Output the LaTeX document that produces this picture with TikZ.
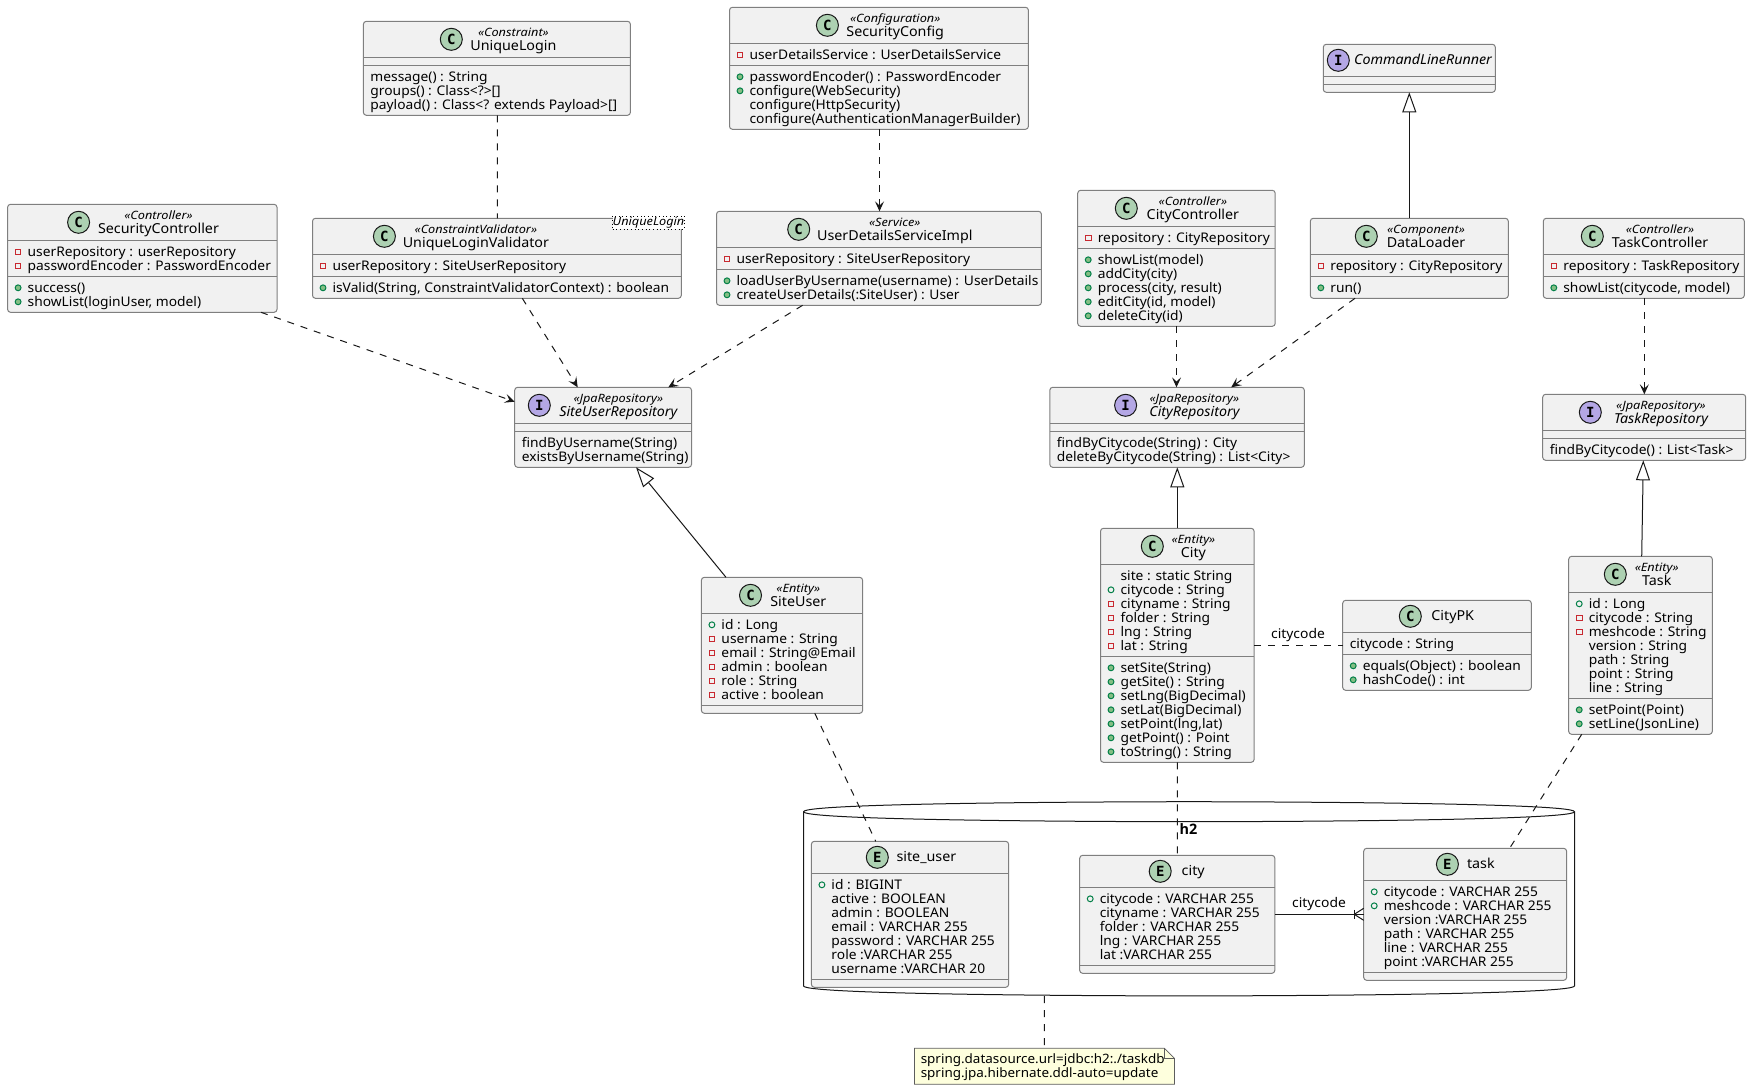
\documentclass[tikz,border=0pt]{standalone}
\usepackage{fontspec}
\setmainfont[FakeStretch=1.04]{Noto Sans}
\newfontfamily\stereofont[FakeStretch=1.11]{Noto Sans}
\newfontfamily\headfont{Open Sans}
\newfontfamily\letterfont{DejaVu Sans Mono}
\usetikzlibrary{arrows.meta,calc}
\definecolor{boxfill}{HTML}{F1F1F1}
\definecolor{boxline}{HTML}{7F7F7F}
\definecolor{inkc}{HTML}{181818}
\definecolor{classc}{HTML}{ADD1B2}
\definecolor{ifacec}{HTML}{B4A7E5}
\definecolor{notefill}{HTML}{FEFFDD}
\definecolor{redo}{HTML}{C82930}
\definecolor{greeno}{HTML}{038048}
\definecolor{greenf}{HTML}{84BE84}
\tikzset{
  umlbox/.style={draw=boxline,fill=boxfill,line width=0.75pt,rounded corners=2.2pt,inner sep=0pt,outer sep=0pt},
  sepline/.style={draw=boxline,line width=0.75pt},
  rowt/.style={anchor=base west,inner sep=0pt,font=\fontsize{9.95}{11}\selectfont,text=black},
  stereot/.style={anchor=base,inner sep=0pt,font=\fontsize{8.6}{10}\stereofont\itshape\selectfont,text=black},
  titlet/.style={anchor=base,inner sep=0pt,font=\fontsize{10.3}{11}\selectfont,text=black},
  titlei/.style={titlet,font=\fontsize{10.3}{11}\itshape\selectfont},
  lett/.style={circle,draw=inkc,line width=0.75pt,minimum size=16.5pt,inner sep=0pt,font=\fontsize{10.5}{10}\letterfont\bfseries\selectfont,text=black},
  labt/.style={anchor=base,inner sep=0pt,font=\fontsize{10}{11}\selectfont,text=black},
  notet/.style={anchor=base west,inner sep=0pt,font=\fontsize{9.7}{11}\selectfont,text=black},
  lnk/.style={draw=inkc,line width=0.75pt},
  dep/.style={lnk,dash pattern=on 5.25pt off 5.25pt},
  deparr/.style={dep,-{Stealth[length=7.5pt,width=6.8pt,inset=3.2pt,fill=inkc]}},
  inh/.style={lnk,-{Triangle[length=15pt,width=10.5pt,fill=white,line width=0.75pt]}},
}
% name, x1,y1,x2,y2, header line, member line
\newcommand\umlclass[7]{%
  \pgfmathsetlengthmacro\bw{(#4-#2)*0.75pt}%
  \pgfmathsetlengthmacro\bh{(#5-#3)*0.75pt}%
  \node[umlbox,minimum width=\bw,minimum height=\bh] (#1) at ({(#2+#4)/2},{(#3+#5)/2}) {};
  \draw[sepline] (#2,#6) -- (#4,#6);
  \draw[sepline] (#2,#7) -- (#4,#7);
}
% name, letter, colour, circle x, box top, text x, stereotype, title, title style
\newcommand\umlhead[9]{%
  \node[lett,fill=#3] (#1c) at (#4,{#5+18}) {#2};
  \node[stereot] (#1s) at (#6,{#5+15.5}) {«#7»};
  \node[#9] (#1t) at (#6,{#5+28.8}) {#8};
}
\newcommand\umlheadn[8]{%
  \node[lett,fill=#3] (#1c) at (#4,{#5+#8}) {#2};
  \node[titlet] (#1t) at (#6,{#5+#8+4.6}) {#7};
}
% name, section, box left, line y, rows kind/text
\newcommand\umlrows[5]{%
  \foreach \rk/\rt [count=\ri] in {#5}{%
    \pgfmathsetmacro\ry{#4+16.3+14*(\ri-1)}%
    \if\rk n\relax
      \node[rowt] (#1#2\ri) at ({#3+6.8},\ry) {\rt};
    \else
      \node[rowt] (#1#2\ri) at ({#3+19.8},\ry) {\rt};
      \if\rk p\relax
        \draw[draw=redo,line width=0.75pt] ({#3+7.7},{\ry-7.6}) rectangle ++(5.6,5.6);
      \fi
      \if\rk f\relax
        \draw[draw=greeno,line width=0.75pt] ({#3+10.5},{\ry-4.8}) circle[radius=2.2pt];
      \fi
      \if\rk m\relax
        \draw[draw=greeno,fill=greenf,line width=0.75pt] ({#3+10.5},{\ry-4.8}) circle[radius=2.2pt];
      \fi
    \fi
  }%
}
\begin{document}
\begin{tikzpicture}[x=0.75pt,y=-0.75pt]
\useasboundingbox (0,0) rectangle (1751,1090);
% database
\node[inner sep=0pt,minimum width=578.25pt,minimum height=145.7pt] (db) at (1189,898.8) {};
\draw[lnk,fill=white] (803.5,811.7) .. controls (803.5,801.7) and (1189,801.7) .. (1189,801.7)
  .. controls (1189,801.7) and (1574.5,801.7) .. (1574.5,811.7) -- (1574.5,985.9)
  .. controls (1574.5,995.9) and (1189,995.9) .. (1189,995.9)
  .. controls (1189,995.9) and (803.5,995.9) .. (803.5,985.9) -- cycle;
\draw[lnk] (803.5,811.7) .. controls (803.5,821.7) and (1189,821.7) .. (1189,821.7)
  .. controls (1189,821.7) and (1574.5,821.7) .. (1574.5,811.7);
\node[anchor=base,inner sep=0pt,font=\fontsize{10.8}{11}\headfont\bfseries\selectfont] (h2) at (1188.5,834.6) {h2};
% classes
\umlclass{uniq}{363.4}{21.3}{630.4}{115.3}{57.3}{65.3}
\umlhead{uniq}{C}{classc}{451.3}{21.3}{513.4}{Constraint}{UniqueLogin}{titlet}
\umlrows{uniq}{b}{363.4}{65.3}{n/{message() : String},n/{groups() : Class<?>[]},n/{payload() : Class<? extends Payload>[]}}

\umlclass{secctl}{7.6}{204.3}{277}{312.3}{240.3}{276.3}
\umlhead{secctl}{C}{classc}{78.6}{204.3}{158.5}{Controller}{SecurityController}{titlet}
\umlrows{secctl}{a}{7.6}{240.3}{p/{userRepository : userRepository},p/{passwordEncoder : PasswordEncoder}}
\umlrows{secctl}{b}{7.6}{276.3}{m/{success()},m/{showList(loginUser, model)}}

\umlclass{valid}{312.5}{218.3}{681.3}{298.3}{254.3}{276.3}
\umlhead{valid}{C}{classc}{384.4}{218.3}{475.9}{ConstraintValidator}{UniqueLoginValidator}{titlet}
\umlrows{valid}{a}{312.5}{254.3}{p/{userRepository : SiteUserRepository}}
\umlrows{valid}{b}{312.5}{276.3}{m/{isValid(String, ConstraintValidatorContext) : boolean}}
\node[draw=black,dotted,fill=white,line width=0.75pt,inner sep=0pt,minimum width=54pt,minimum height=10pt,font=\fontsize{8.6}{10}\stereofont\itshape\selectfont] (tmpl) at (648.5,222.7) {UniqueLogin};

\umlclass{surepo}{514.7}{387.3}{691.5}{467.3}{423.3}{431.3}
\umlhead{surepo}{I}{ifacec}{539.3}{387.3}{618.3}{JpaRepository}{SiteUserRepository}{titlei}
\umlrows{surepo}{b}{514.7}{431.3}{n/{findByUsername(String)},n/{existsByUsername(String)}}

\umlclass{seccfg}{729.5}{7.3}{1028.4}{129.3}{43.3}{65.3}
\umlhead{seccfg}{C}{classc}{827.4}{7.3}{895.2}{Configuration}{SecurityConfig}{titlet}
\umlrows{seccfg}{a}{729.5}{43.3}{p/{userDetailsService : UserDetailsService}}
\umlrows{seccfg}{b}{729.5}{65.3}{m/{passwordEncoder() : PasswordEncoder},m/{configure(WebSecurity)},e/{configure(HttpSecurity)},e/{configure(AuthenticationManagerBuilder)}}

\umlclass{udsi}{716.5}{211.3}{1041.4}{305.3}{247.3}{269.3}
\umlhead{udsi}{C}{classc}{798.7}{211.3}{894.8}{Service}{UserDetailsServiceImpl}{titlet}
\umlrows{udsi}{a}{716.5}{247.3}{p/{userRepository : SiteUserRepository}}
\umlrows{udsi}{b}{716.5}{269.3}{m/{loadUserByUsername(username) : UserDetails},m/{createUserDetails(:SiteUser) : User}}

\umlclass{cityctl}{1077.7}{190.3}{1275.2}{326.3}{226.3}{248.3}
\umlhead{cityctl}{C}{classc}{1126.3}{190.3}{1192.9}{Controller}{CityController}{titlet}
\umlrows{cityctl}{a}{1077.7}{226.3}{p/{repository : CityRepository}}
\umlrows{cityctl}{b}{1077.7}{248.3}{m/{showList(model)},m/{addCity(city)},m/{process(city, result)},m/{editCity(id, model)},m/{deleteCity(id)}}

\umlclass{cityrepo}{1049.8}{387.3}{1304.3}{467.3}{423.3}{431.3}
\umlhead{cityrepo}{I}{ifacec}{1125.6}{387.3}{1194.4}{JpaRepository}{CityRepository}{titlei}
\umlrows{cityrepo}{b}{1049.8}{431.3}{n/{findByCitycode(String) : City},n/{deleteByCitycode(String) : List<City>}}

\umlclass{clr}{1323.3}{44.3}{1495.3}{92.3}{76.3}{84.3}
\node[lett,fill=ifacec] (clrc) at (1338.3,60.3) {I};
\node[titlei] (clrt) at (1423,64.9) {CommandLineRunner};

\umlclass{loader}{1310.3}{218.3}{1508.3}{298.3}{254.3}{276.3}
\umlhead{loader}{C}{classc}{1366.3}{218.3}{1426}{Component}{DataLoader}{titlet}
\umlrows{loader}{a}{1310.3}{254.3}{p/{repository : CityRepository}}
\umlrows{loader}{b}{1310.3}{276.3}{m/{run()}}

\umlclass{taskctl}{1543.3}{218.3}{1744.3}{298.3}{254.3}{276.3}
\umlhead{taskctl}{C}{classc}{1592.3}{218.3}{1660}{Controller}{TaskController}{titlet}
\umlrows{taskctl}{a}{1543.3}{254.3}{p/{repository : TaskRepository}}
\umlrows{taskctl}{b}{1543.3}{276.3}{m/{showList(citycode, model)}}

\umlclass{taskrepo}{1542.7}{394.3}{1745.7}{460.3}{430.3}{438.3}
\umlhead{taskrepo}{I}{ifacec}{1590.3}{394.3}{1661}{JpaRepository}{TaskRepository}{titlei}
\umlrows{taskrepo}{b}{1542.7}{438.3}{n/{findByCitycode() : List<Task>}}

\umlclass{siteuser}{701.4}{577.3}{862.6}{713.3}{613.3}{705.3}
\umlhead{siteuser}{C}{classc}{750.5}{577.3}{798.3}{Entity}{SiteUser}{titlet}
\umlrows{siteuser}{a}{701.4}{613.3}{f/{id : Long},p/{username : String},p/{email : String@Email},p/{admin : boolean},p/{role : String},p/{active : boolean}}

\umlclass{city}{1100.5}{528.3}{1254.1}{762.3}{564.3}{656.3}
\umlhead{city}{C}{classc}{1152.3}{528.3}{1193.4}{Entity}{City}{titlet}
\umlrows{city}{a}{1100.5}{564.3}{e/{site : static String},f/{citycode : String},p/{cityname : String},p/{folder : String},p/{lng : String},p/{lat : String}}
\umlrows{city}{b}{1100.5}{656.3}{m/{setSite(String)},m/{getSite() : String},m/{setLng(BigDecimal)},m/{setLat(BigDecimal)},m/{setPoint(lng,lat)},m/{getPoint() : Point},m/{toString() : String}}

\umlclass{citypk}{1342.7}{600.3}{1531.3}{690.3}{632.3}{654.3}
\umlheadn{citypk}{C}{classc}{1410.3}{600.3}{1452.7}{CityPK}{16}
\umlrows{citypk}{a}{1342.7}{632.3}{n/{citycode : String}}
\umlrows{citypk}{b}{1342.7}{654.3}{m/{equals(Object) : boolean},m/{hashCode() : int}}

\umlclass{task}{1568.7}{556.3}{1712.3}{734.3}{592.3}{698.3}
\umlhead{task}{C}{classc}{1615.3}{556.3}{1656.7}{Entity}{Task}{titlet}
\umlrows{task}{a}{1568.7}{592.3}{f/{id : Long},p/{citycode : String},p/{meshcode : String},e/{version : String},e/{path : String},e/{point : String},e/{line : String}}
\umlrows{task}{b}{1568.7}{698.3}{m/{setPoint(Point)},m/{setLine(JsonLine)}}

\umlclass{tsiteuser}{811.4}{841.3}{1008.6}{987.3}{873.3}{979.3}
\umlheadn{tsiteuser}{E}{classc}{877.3}{841.3}{926.4}{site\_user}{16}
\umlrows{tsiteuser}{a}{811.4}{873.3}{f/{id : BIGINT},e/{active : BOOLEAN},e/{admin : BOOLEAN},e/{email : VARCHAR 255},e/{password : VARCHAR 255},e/{role :VARCHAR 255},e/{username :VARCHAR 20}}

\umlclass{tcity}{1079.7}{855.3}{1274.8}{973.3}{887.3}{965.3}
\umlheadn{tcity}{E}{classc}{1160.2}{855.3}{1193.2}{city}{16}
\umlrows{tcity}{a}{1079.7}{887.3}{f/{citycode : VARCHAR 255},e/{cityname : VARCHAR 255},e/{folder : VARCHAR 255},e/{lng : VARCHAR 255},e/{lat :VARCHAR 255}}

\umlclass{ttask}{1363.7}{848.3}{1566.6}{980.3}{880.3}{972.3}
\umlheadn{ttask}{E}{classc}{1447.4}{848.3}{1480.8}{task}{16}
\umlrows{ttask}{a}{1363.7}{880.3}{f/{citycode : VARCHAR 255},f/{meshcode : VARCHAR 255},e/{version :VARCHAR 255},e/{path : VARCHAR 255},e/{line : VARCHAR 255},e/{point :VARCHAR 255}}

% note
\node[inner sep=0pt,minimum width=195pt,minimum height=27pt] (note) at (1044.4,1066.3) {};
\draw[draw=inkc!70!white,fill=notefill,line width=0.6pt] (914.4,1048.3) -- (1164.4,1048.3) -- (1174.4,1058.3) -- (1174.4,1084.3) -- (914.4,1084.3) -- cycle;
\draw[draw=inkc!70!white,line width=0.6pt] (1164.4,1048.3) -- (1164.4,1058.3) -- (1174.4,1058.3);
\node[notet] (note1) at (920.5,1063.6) {spring.datasource.url=jdbc:h2:./taskdb};
\node[notet] (note2) at (920.5,1077) {spring.jpa.hibernate.ddl-auto=update};

% connectors
\draw[dep] ($(uniq.south west)+(133.9,0)$) -- ($(valid.north west)+(184.8,0)$);
\draw[deparr] ($(seccfg.south west)+(150,0)$) -- ($(udsi.north west)+(163,0)$);
\draw[deparr] ($(secctl.south west)+(253.4,0)$) -- ($(surepo.north west)+(0,14.4)$);
\draw[deparr] ($(valid.south west)+(209.8,0)$) -- ($(surepo.north west)+(63,0)$);
\draw[deparr] ($(udsi.south west)+(86.1,0)$) -- ($(surepo.north west)+(153.6,0)$);
\draw[inh] ($(siteuser.north west)+(24.6,0)$) -- ($(surepo.south west)+(121.3,0)$);
\draw[deparr] ($(cityctl.south west)+(98.8,0)$) -- ($(cityrepo.north west)+(126.7,0)$);
\draw[deparr] ($(loader.south west)+(44.7,0)$) -- ($(cityrepo.north west)+(181.4,0)$);
\draw[inh] ($(loader.north west)+(99,0)$) -- ($(clr.south west)+(86,0)$);
\draw[deparr] ($(taskctl.south west)+(101,0)$) -- ($(taskrepo.north west)+(101.6,0)$);
\draw[inh] ($(task.north west)+(73,0)$) -- ($(taskrepo.south west)+(100.6,0)$);
\draw[inh] ($(city.north west)+(76.8,0)$) -- ($(cityrepo.south west)+(127.5,0)$);
\draw[dep] (city.east |- citypk.west) -- (citypk.west);
\node[labt] (lab1) at (1298,638.6) {citycode};
\draw[dep] ($(siteuser.south west)+(113.4,0)$) -- ($(tsiteuser.north west)+(64.3,0)$);
\draw[dep] ($(city.south west)+(76.8,0)$) -- ($(tcity.north west)+(97.6,0)$);
\draw[dep] ($(task.south west)+(13,0)$) -- ($(ttask.north west)+(145.9,0)$);
\draw[lnk] (tcity.east |- ttask.west) -- (ttask.west);
\draw[lnk] ($(ttask.west)+(-9.5,0)$) -- ($(ttask.west)+(0,-6)$);
\draw[lnk] ($(ttask.west)+(-9.5,0)$) -- ($(ttask.west)+(0,6)$);
\draw[lnk] ($(ttask.west)+(-9.5,-4.5)$) -- ($(ttask.west)+(-9.5,4.5)$);
\node[labt] (lab2) at (1319,907.6) {citycode};
\draw[dep] ($(db.south west)+(241.1,0)$) -- ($(note.north west)+(130.2,0)$);
\end{tikzpicture}
\end{document}
